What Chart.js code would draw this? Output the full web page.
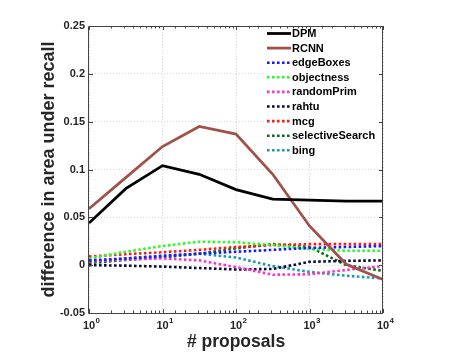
<!DOCTYPE html>
<html><head><meta charset="utf-8">
<script src="https://cdn.jsdelivr.net/npm/chart.js@4"></script>
<style>html,body{margin:0;padding:0;background:#fff}canvas{display:block}</style>
</head><body>
<canvas id="c" width="457" height="353"></canvas>
<script>
// ---- data ----
const proposals = [1, 3.162, 10, 31.62, 100, 316.2, 1000, 3162, 10000];
const DPM             = [0.044, 0.080, 0.104, 0.095, 0.079, 0.069, 0.068, 0.067, 0.067];
const RCNN            = [0.059, 0.0915, 0.124, 0.145, 0.137, 0.095, 0.041, 0.001, -0.015];
const edgeBoxes       = [0.005, 0.007, 0.0095, 0.012, 0.014, 0.016, 0.018, 0.019, 0.020];
const objectness      = [0.007, 0.014, 0.020, 0.0245, 0.024, 0.021, 0.017, 0.015, 0.015];
const randomPrim      = [0.004, 0.006, 0.007, 0.005, -0.002, -0.010, -0.0095, -0.005, -0.001];
const rahtu           = [0.000, -0.0005, -0.0015, -0.003, -0.0045, -0.004, 0.0035, 0.0045, 0.005];
const mcg             = [0.009, 0.0115, 0.0135, 0.016, 0.019, 0.021, 0.022, 0.022, 0.022];
const selectiveSearch = [0.002, 0.0055, 0.008, 0.012, 0.0175, 0.022, 0.019, 0.000, -0.006];
const bing            = [0.004, 0.007, 0.010, 0.012, 0.008, -0.001, -0.007, -0.011, -0.014];
const seriesNames = ['DPM','RCNN','edgeBoxes','objectness','randomPrim','rahtu','mcg','selectiveSearch','bing'];
const seriesValues = [DPM, RCNN, edgeBoxes, objectness, randomPrim, rahtu, mcg, selectiveSearch, bing];
const seriesColors = ['#000000','#a0524a','#1a1aff','#22ff22','#ff33cc','#0a0a40','#ff1a1a','#0b6b1a','#1a9aaa'];
const seriesSolid  = [true, true, false, false, false, false, false, false, false];
const yMin = -0.05, yMax = 0.25, yStep = 0.05;
const xMin = 1, xMax = 10000;
const xTitle = '# proposals';
const yTitle = 'difference in area under recall';

const FONT = '"Liberation Sans", Arial, Helvetica, sans-serif';
function isDecade(v){ const l = Math.log10(v); return Math.abs(l - Math.round(l)) < 1e-9; }

const datasets = seriesNames.map((n,i)=>({
  label: n,
  data: proposals.map((p,j)=>({x:p, y:seriesValues[i][j]})),
  borderColor: seriesColors[i],
  backgroundColor: seriesColors[i],
  borderWidth: seriesSolid[i] ? 2.8 : 2.6,
  borderDash: seriesSolid[i] ? [] : [2.6, 2.4],
  borderCapStyle: 'butt',
  pointRadius: 0,
  tension: 0,
  fill: false
}));

const legendPlugin = {
  id: 'insideLegend',
  afterDatasetsDraw(chart){
    const ctx = chart.ctx, a = chart.chartArea;
    ctx.save();
    ctx.fillStyle = '#fff';
    ctx.fillRect(264, a.top + 1, a.right - 265, 131);
    ctx.font = 'bold 11px ' + FONT;
    ctx.textBaseline = 'middle';
    ctx.textAlign = 'left';
    chart.data.datasets.forEach((d,i)=>{
      const yy = 33.5 + i * 14.6;
      ctx.beginPath();
      ctx.strokeStyle = d.borderColor;
      ctx.lineWidth = d.borderWidth;
      ctx.setLineDash(d.borderDash);
      ctx.lineCap = 'butt';
      ctx.moveTo(267, yy); ctx.lineTo(291, yy);
      ctx.stroke();
      ctx.setLineDash([]);
      ctx.fillStyle = '#000';
      ctx.fillText(d.label, 292, yy + 0.5);
    });
    ctx.restore();
  }
};

const framePlugin = {
  id: 'frame',
  afterDraw(chart){
    const ctx = chart.ctx, a = chart.chartArea, xs = chart.scales.x, ys = chart.scales.y;
    ctx.save();
    ctx.strokeStyle = '#444';
    ctx.lineWidth = 1;
    ctx.beginPath();
    ctx.rect(Math.round(a.left) - 0.5, Math.round(a.top) + 0.5, Math.round(a.right - a.left), Math.round(a.bottom - a.top));
    ctx.stroke();
    ctx.beginPath();
    xs.ticks.forEach(t=>{
      const px = Math.round(xs.getPixelForValue(t.value)) + 0.5;
      const len = isDecade(t.value) ? 4 : 2.5;
      ctx.moveTo(px, a.bottom); ctx.lineTo(px, a.bottom - len);
      ctx.moveTo(px, a.top); ctx.lineTo(px, a.top + len);
    });
    ys.ticks.forEach(t=>{
      const py = Math.round(ys.getPixelForValue(t.value)) + 0.5;
      ctx.moveTo(a.left, py); ctx.lineTo(a.left + 4, py);
      ctx.moveTo(a.right, py); ctx.lineTo(a.right - 4, py);
    });
    ctx.stroke();
    // decade tick labels: base "10" with raised exponent, positioned by the x scale
    ctx.fillStyle = '#262626';
    ctx.textBaseline = 'alphabetic';
    xs.ticks.forEach(t=>{
      if (!isDecade(t.value)) return;
      const px = xs.getPixelForValue(t.value);
      const e = String(Math.round(Math.log10(t.value)));
      ctx.font = 'bold 11px ' + FONT;
      ctx.textAlign = 'center';
      ctx.fillText('10', px, a.bottom + 16);
      const w = ctx.measureText('10').width;
      ctx.font = 'bold 8px ' + FONT;
      ctx.textAlign = 'left';
      ctx.fillText(e, px + w / 2 + 0.5, a.bottom + 10);
    });
    ctx.restore();
  }
};

new Chart(document.getElementById('c'), {
  type: 'line',
  data: { datasets },
  options: {
    responsive: false,
    animation: false,
    layout: { padding: { left: 0, top: 26, right: 74, bottom: 0 } },
    plugins: { legend: { display: false }, tooltip: { enabled: false } },
    scales: {
      x: {
        type: 'logarithmic', min: xMin, max: xMax,
        afterFit(s){ s.height = 40; },
        grid: {
          drawTicks: false,
          color: c => (c.tick && isDecade(c.tick.value)) ? '#d8d8d8' : 'rgba(0,0,0,0)',
          lineWidth: 1
        },
        border: { display: false, dash: [1, 2] },
        ticks: {
          autoSkip: false, maxRotation: 0, padding: 5,
          color: 'rgba(0,0,0,0)',
          font: { family: FONT, size: 11, weight: 'bold' },
          callback: v => isDecade(v) ? '10' : ''
        },
        title: { display: true, text: xTitle, color: '#262626',
          font: { family: FONT, size: 17.5, weight: 'bold' }, padding: { top: 0, bottom: 0 } }
      },
      y: {
        type: 'linear', min: yMin, max: yMax,
        afterFit(s){ s.width = 89; },
        grid: { drawTicks: false, color: '#d8d8d8', lineWidth: 1 },
        border: { display: false, dash: [1, 2] },
        ticks: {
          stepSize: yStep, padding: 4, color: '#262626',
          font: { family: FONT, size: 11, weight: 'bold' },
          callback: v => String(Math.round(v * 100) / 100)
        },
        title: { display: true, text: yTitle, color: '#262626',
          font: { family: FONT, size: 18, weight: 'bold' }, padding: { top: 38, bottom: 0 } }
      }
    }
  },
  plugins: [legendPlugin, framePlugin]
});
</script>
</body></html>
